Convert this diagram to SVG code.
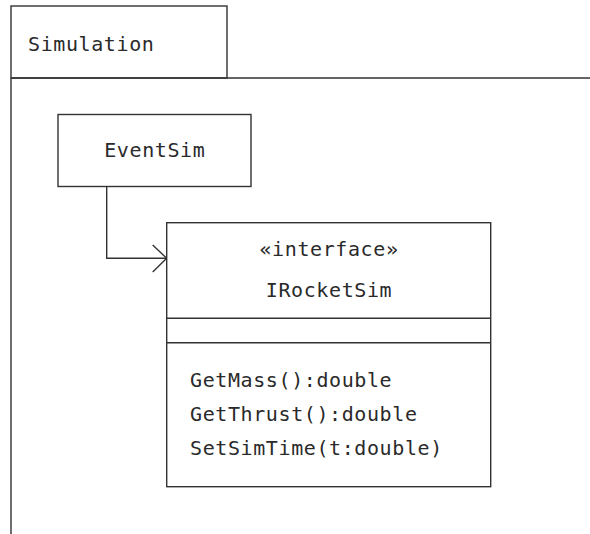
<svg xmlns="http://www.w3.org/2000/svg" width="590" height="534" viewBox="0 0 590 534">
  <style>
    .ln { fill: none; stroke: #333; stroke-width: 1.4; }
    .box { fill: #fff; stroke: #333; stroke-width: 1.4; }
    .t { font-family: "DejaVu Sans Mono", "Liberation Mono", monospace; font-size: 20px; letter-spacing: 0.6px; fill: #2a2a2a; }
    .c { text-anchor: middle; }
  </style>
  <rect width="590" height="534" fill="#fff"/>

  <!-- package frame -->
  <g id="pkg-simulation">
    <rect class="box" x="11" y="6" width="216" height="72"/>
    <path class="ln" d="M11 78 H590 M11 78 V534"/>
    <text class="t" x="28" y="51">Simulation</text>
  </g>

  <!-- connectors -->
  <g id="connectors">
    <path class="ln" d="M106.7 186.5 V258.3 H166.7"/>
    <path class="ln" d="M152.7 245 L166.7 258.3 L152.7 272"/>
  </g>

  <g id="node-eventsim">
    <rect class="box" x="58" y="114.5" width="193" height="72"/>
    <text class="t c" x="154.8" y="157">EventSim</text>
  </g>

  <g id="node-irocketsim">
    <rect class="box" x="166.7" y="222.7" width="324" height="264"/>
    <path class="ln" d="M166.7 318.3 H490.7 M166.7 342.7 H490.7"/>
    <text class="t c" x="329" y="256">«interface»</text>
    <text class="t c" x="329" y="297">IRocketSim</text>
    <text class="t" x="190" y="387">GetMass():double</text>
    <text class="t" x="190" y="421">GetThrust():double</text>
    <text class="t" x="190" y="455">SetSimTime(t:double)</text>
  </g>
</svg>
